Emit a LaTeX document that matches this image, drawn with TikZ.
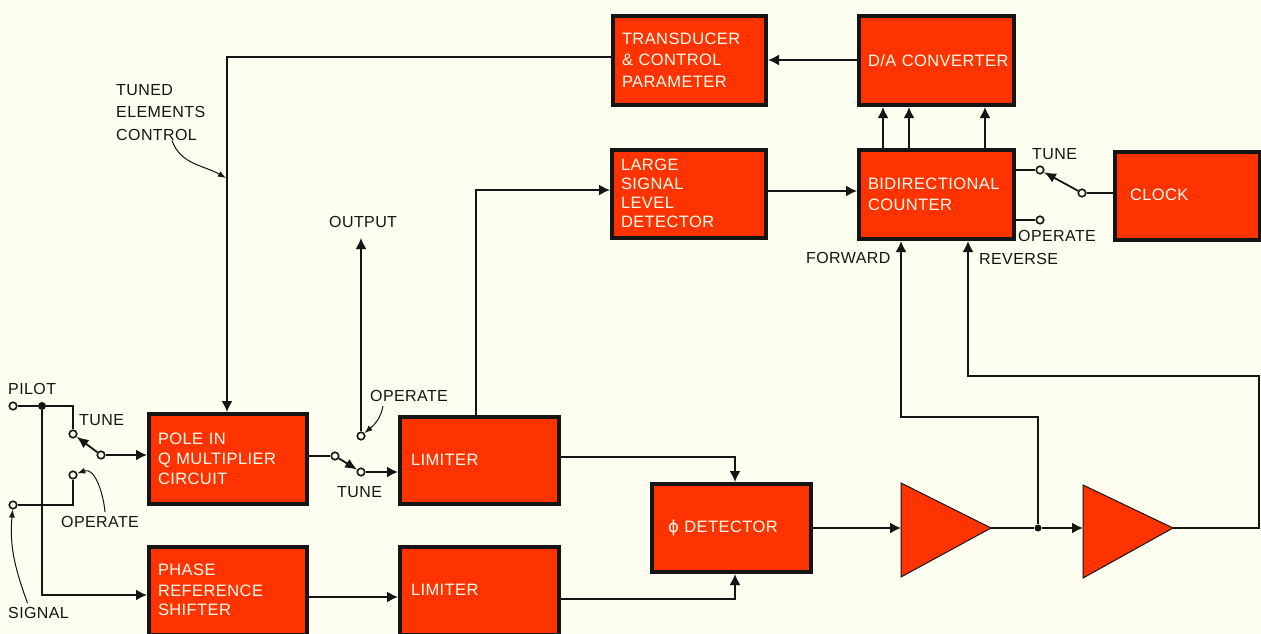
\documentclass[tikz,border=0pt]{standalone}
\usepackage{fontspec}
\setmainfont[LetterSpace=2.5]{Liberation Sans}
\newfontfamily\phifont{DejaVu Sans}
\usetikzlibrary{arrows.meta}
\definecolor{paper}{HTML}{FDFDF0}
\definecolor{blockred}{HTML}{FF3300}
\definecolor{ink}{HTML}{151515}
\tikzset{
  x=1pt,y=-1pt,
  box/.style={draw=ink,fill=blockred,line width=4pt,text=paper,align=left,anchor=north west,inner xsep=9pt,inner ysep=0pt,font=\fontsize{16.5}{20}\selectfont,outer sep=2pt},
  lab/.style={text=ink,font=\fontsize{16}{22.5}\selectfont,inner sep=0pt,align=left},
  wire/.style={draw=ink,line width=1.8pt},
  flow/.style={wire,-{Latex[length=11pt,width=11pt]}},
  lead/.style={draw=ink,line width=1pt,-{Latex[length=8pt,width=6pt]}},
  term/.style={circle,draw=ink,fill=paper,line width=1.6pt,minimum size=7.5pt,inner sep=0pt},
  dot/.style={circle,fill=ink,minimum size=8pt,inner sep=0pt},
  arm/.style={wire,-{Latex[length=12pt,width=10pt]}},
}
\begin{document}
\begin{tikzpicture}
\useasboundingbox (0,0) rectangle (1261,634);
\fill[paper] (0,0) rectangle (1261,634);
% blocks
\node[box,text width=135pt,minimum height=89pt] (trans) at (611,14) {\raisebox{2pt}{TRANSDUCER}\\[1pt]\raisebox{2pt}{\& CONTROL}\\[1pt]\raisebox{1pt}{PARAMETER}};
\node[box,text width=137pt,minimum height=89pt] (da) at (857,14) {\mbox{D/A CONVERTER}};
\node[box,text width=136pt,minimum height=88pt] (large) at (610,148) {\raisebox{2pt}{LARGE}\\[-1pt]\raisebox{2pt}{SIGNAL}\\[-1pt]\raisebox{2pt}{LEVEL}\\[-1pt]\raisebox{2pt}{DETECTOR}};
\node[box,text width=137pt,minimum height=89pt] (count) at (857,148) {BIDIRECTIONAL\\[1pt]COUNTER};
\node[box,text width=127pt,minimum height=88pt] (clock) at (1113,150) {\hspace{6pt}\raisebox{2pt}{CLOCK}};
\node[box,text width=140pt,minimum height=90pt] (pole) at (147,412) {POLE IN\\Q MULTIPLIER\\CIRCUIT};
\node[box,text width=141pt,minimum height=87pt] (lim1) at (398,415) {\hspace{2pt}\raisebox{2pt}{LIMITER}};
\node[box,text width=140pt,minimum height=88pt] (phase) at (147,545) {\raisebox{2pt}{PHASE}\\\raisebox{1pt}{REFERENCE}\\\raisebox{2pt}{SHIFTER}};
\node[box,text width=141pt,minimum height=88pt] (lim2) at (398,545) {\hspace{2pt}\raisebox{2pt}{LIMITER}};
\node[box,text width=141pt,minimum height=88pt] (det) at (650,482) {\hspace{7pt}{\phifont ϕ} DETECTOR};
% amplifiers
\coordinate (amp1w) at (901,528);
\coordinate (amp1e) at (991,528);
\coordinate (amp2w) at (1083,528);
\coordinate (amp2e) at (1173,528);
\fill[blockred,draw=ink,line width=1pt] (901,483) -- (amp1e) -- (901,577) -- cycle;
\fill[blockred,draw=ink,line width=1pt] (1083,485) -- (amp2e) -- (1083,578) -- cycle;
% terminals
\node[term] (pilot) at (13,406) {};
\node[dot] (pj) at (42,406) {};
\node[term] (sigt) at (13,505) {};
\node[term] (st) at (73,434) {};
\node[term] (so) at (73,475) {};
\node[term] (sc) at (101,455) {};
\node[term] (qa) at (335,456) {};
\node[term] (qb) at (361,472) {};
\node[term] (qo) at (361,436) {};
\node[term] (ct) at (1040,170) {};
\node[term] (co) at (1040,220) {};
\node[term] (cc) at (1082,193) {};
\node[dot,minimum size=7pt] (aj) at (1038,528) {};
\coordinate (outtip) at (361,238);
\coordinate (tunedtip) at (226,178);
% labels
\node[lab,anchor=west] (lpilot) at (8,389) {PILOT};
\node[lab,anchor=west] (ltune1) at (79,420) {TUNE};
\node[lab,anchor=west] (lop1) at (61,522) {OPERATE};
\node[lab,anchor=west] (lsig) at (8,613) {SIGNAL};
\node[lab,anchor=north west] (ltuned) at (116,84) {TUNED\\ELEMENTS\\CONTROL};
\node[lab,anchor=west] (lout) at (329,222) {OUTPUT};
\node[lab,anchor=west] (lop2) at (370,396) {OPERATE};
\node[lab,anchor=west] (ltune2) at (337,492) {TUNE};
\node[lab,anchor=west] (lfwd) at (806,258) {FORWARD};
\node[lab,anchor=west] (lrev) at (979,259) {REVERSE};
\node[lab,anchor=west] (ltune3) at (1032,154) {TUNE};
\node[lab,anchor=west] (lop3) at (1018,236) {OPERATE};
% connectors
\draw[flow] (da.west |- 0,60) -- (trans.east |- 0,60);
\draw[flow] (trans.west |- 0,57) -| (pole.north -| 227,0);
\draw[flow] (lim1.north -| 476,0) |- (large.west |- 0,190);
\draw[flow] (large.east |- 0,191) -- (count.west |- 0,191);
\draw[flow] (count.north -| 883,0) -- (da.south -| 883,0);
\draw[flow] (count.north -| 909,0) -- (da.south -| 909,0);
\draw[flow] (count.north -| 985,0) -- (da.south -| 985,0);
\draw[wire] (count.east |- 0,170) -- (ct);
\draw[wire] (count.east |- 0,220) -- (co);
\draw[arm] (cc) -- (ct);
\draw[wire] (cc) -- (clock.west |- cc);
\draw[wire] (pilot) -- (pj);
\draw[wire] (pj) -| (st);
\draw[flow] (pj) |- (phase.west |- 0,595);
\draw[arm] (sc) -- (st);
\draw[flow] (sc) -- (pole.west |- sc);
\draw[wire] (sigt) -| (so);
\draw[wire] (pole.east |- qa) -- (qa);
\draw[arm] (qa) -- (qb);
\draw[flow] (qb) -- (lim1.west |- qb);
\draw[flow] (qo) -- (outtip);
\draw[flow] (lim1.east |- 0,457) -| (det.north -| 735,0);
\draw[flow] (lim2.east |- 0,599) -| (det.south -| 735,0);
\draw[flow] (phase.east |- 0,597) -- (lim2.west |- 0,597);
\draw[flow] (det.east |- amp1w) -- (amp1w);
\draw[wire] (amp1e) -- (aj);
\draw[flow] (aj) -- (amp2w);
\draw[flow] (aj) |- (901,417) -- (count.south -| 901,0);
\draw[flow] (amp2e) -- (1259,528) -- (1259,376) -| (count.south -| 968,0);
% leaders
\draw[lead] (ltuned.south -| 172,0) to[out=-70,in=150] (tunedtip);
\draw[lead] (lop2.south west) ++(13,4) to[out=-100,in=40] (qo);
\draw[lead] (lop1.north) ++(5,-4) to[out=95,in=20] (so);
\draw[lead] (lsig.north) ++(-11,-4) to[out=110,in=-95] (sigt);
\end{tikzpicture}
\end{document}
